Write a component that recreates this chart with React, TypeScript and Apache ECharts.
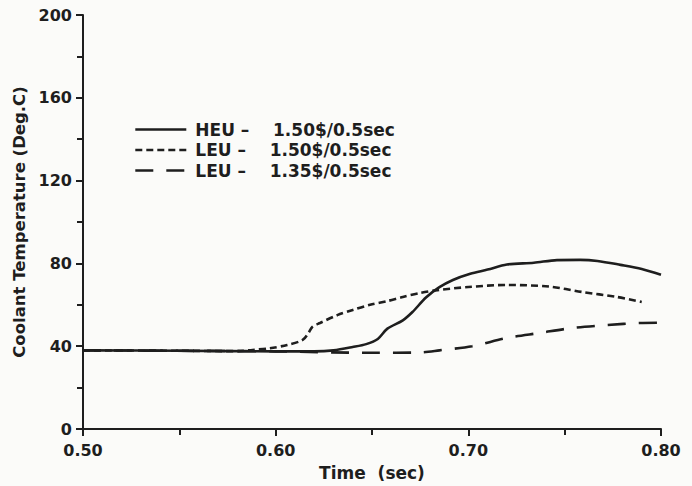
import React, { useEffect, useRef } from "react";
import * as echarts from "echarts";

const heuTime = [0.50, 0.55, 0.60, 0.62, 0.63, 0.64, 0.647, 0.653, 0.658, 0.666, 0.671, 0.678, 0.685, 0.692, 0.701, 0.71, 0.72, 0.734, 0.746, 0.758, 0.767, 0.779, 0.79, 0.80];
const heuTemp = [38, 37.8, 37.5, 37.5, 38, 39.6, 41, 43.5, 48.5, 52.5, 56.5, 63.5, 68.5, 72, 75, 77, 79.5, 80.3, 81.6, 81.7, 81.2, 79.3, 77.3, 74.5];

const leu150Time = [0.50, 0.55, 0.58, 0.588, 0.597, 0.606, 0.614, 0.617, 0.619, 0.623, 0.632, 0.64, 0.649, 0.658, 0.666, 0.675, 0.684, 0.70, 0.72, 0.742, 0.759, 0.777, 0.79];
const leu150Temp = [38, 37.8, 37.6, 38.2, 39, 40.6, 43, 46.4, 49.3, 51.2, 55, 57.5, 60, 61.8, 63.8, 65.7, 67.1, 68.6, 69.6, 68.8, 66.2, 63.8, 61.4];

const leu135Time = [0.50, 0.60, 0.65, 0.675, 0.685, 0.702, 0.72, 0.737, 0.754, 0.772, 0.789, 0.80];
const leu135Temp = [38, 37.5, 36.8, 37, 38, 40, 44, 46.4, 48.8, 50.2, 51.2, 51.3];

const S = "\u00a0";
const seriesNames = [
  `HEU${S}–${S}${S}${S}${S}1.50$/0.5sec`,
  `LEU${S}–${S}${S}${S}${S}1.50$/0.5sec`,
  `LEU${S}–${S}${S}${S}${S}1.35$/0.5sec`,
];

const xTicks = { min: 0.5, max: 0.8, interval: 0.1 };
const yTicks = { min: 0, max: 200, interval: 40 };

const INK = "#1e1e1e";
const FONT = "DejaVu Sans";

function zip(xs: number[], ys: number[]) {
  return xs.map((x, i) => [x, ys[i]]);
}

export default function App() {
  const ref = useRef<HTMLDivElement>(null);
  useEffect(() => {
    if (!ref.current) return;
    const chart = echarts.init(ref.current, null, { renderer: "svg" });
    const axisCommon = {
      axisLine: { show: true, lineStyle: { color: INK, width: 2 } },
      axisTick: { show: true, inside: false, length: 7, lineStyle: { color: INK, width: 2 } },
      minorTick: { show: true, splitNumber: 2, length: 6, lineStyle: { color: INK, width: 2 } },
      splitLine: { show: false },
      axisLabel: { color: INK, fontSize: 16, fontWeight: "bold", fontFamily: FONT },
      nameTextStyle: { color: INK, fontSize: 16.5, fontWeight: "bold", fontFamily: FONT },
    };
    chart.setOption({
      animation: false,
      backgroundColor: "#fbfbf9",
      grid: { left: 83, right: 31, top: 15, bottom: 57, containLabel: false, outerBoundsMode: "none" },
      legend: {
        orient: "vertical",
        left: 134,
        top: 121,
        padding: 0,
        itemWidth: 51,
        itemHeight: 14,
        itemGap: 3.5,
        data: seriesNames,
        itemStyle: { opacity: 0 },
        lineStyle: { width: 2.6 },
        textStyle: { color: INK, fontSize: 17, lineHeight: 16, fontWeight: "bold", fontFamily: FONT, padding: [0, 0, 0, 4] },
      },
      xAxis: {
        type: "value",
        ...xTicks,
        ...axisCommon,
        axisLabel: { ...axisCommon.axisLabel, margin: 13, formatter: (v: number) => v.toFixed(2) },
        name: `Time${S}${S}(sec)`,
        nameLocation: "middle",
        nameGap: 35,
        nameTextStyle: { ...axisCommon.nameTextStyle, fontSize: 17 },
      },
      yAxis: {
        type: "value",
        ...yTicks,
        ...axisCommon,
        axisLabel: { ...axisCommon.axisLabel, margin: 11 },
        name: "Coolant Temperature (Deg.C)",
        nameLocation: "middle",
        nameGap: 53,
      },
      series: [
        {
          name: seriesNames[2],
          type: "line",
          data: zip(leu135Time, leu135Temp),
          symbol: "none",
          smooth: 0.3,
          lineStyle: { color: INK, width: 2.6, type: [18, 13] },
          itemStyle: { color: INK },
          z: 1,
        },
        {
          name: seriesNames[1],
          type: "line",
          data: zip(leu150Time, leu150Temp),
          symbol: "none",
          smooth: 0.3,
          lineStyle: { color: INK, width: 2.6, type: [7, 4] },
          itemStyle: { color: INK },
          z: 2,
        },
        {
          name: seriesNames[0],
          type: "line",
          data: zip(heuTime, heuTemp),
          symbol: "none",
          smooth: 0.3,
          lineStyle: { color: INK, width: 2.6, type: "solid" },
          itemStyle: { color: INK },
          z: 3,
        },
      ],
    });
    return () => chart.dispose();
  }, []);
  return <div ref={ref} style={{ width: 692, height: 486, position: "absolute", left: 0, top: 0 }} />;
}
